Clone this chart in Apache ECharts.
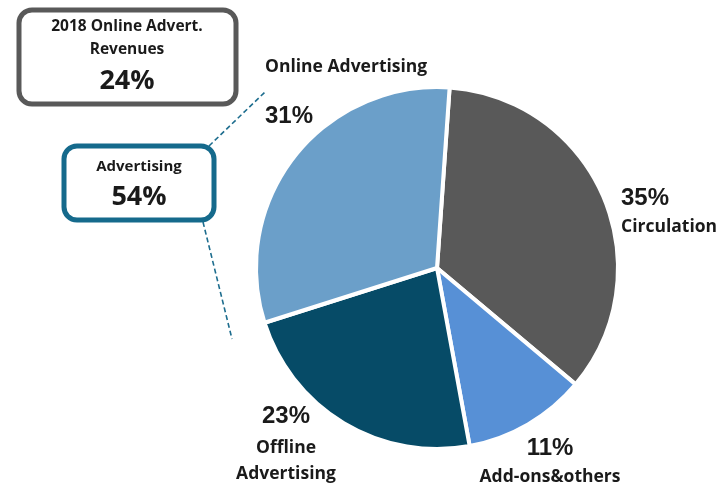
<!DOCTYPE html>
<html>
<head>
<meta charset="utf-8">
<script src="https://cdn.jsdelivr.net/npm/echarts@6/dist/echarts.min.js"></script>
<style>
  html, body { margin: 0; padding: 0; background: #ffffff; }
  #chart { width: 722px; height: 485px; }
</style>
</head>
<body>
<div id="chart"></div>
<script>
// Revenue split, clockwise from the top
const categories = ['Circulation', 'Add-ons&others', 'Offline Advertising', 'Online Advertising'];
const shares = [35, 11, 23, 31];
const sliceColors = ['#595959', '#5790d6', '#064b67', '#6b9fc9'];
// Callout figures
const onlineAdvertRevenue2018 = [24];
const advertisingCategories = ['Offline Advertising', 'Online Advertising'];

const advertisingShare = advertisingCategories
  .map(c => shares[categories.indexOf(c)])
  .reduce((a, b) => a + b, 0);

const nameFont = '"Open Sans", Lato, sans-serif';
const pctFont = '"Liberation Sans", Arial, sans-serif';

// Per-slice label placement: name text lines, order, anchor
const labelSpec = {
  'Online Advertising': { lines: ['Online Advertising'], nameFirst: true, x: 265, y: 47, align: 'left', lhN: 40, lhP: 58 },
  'Circulation': { lines: ['Circulation'], nameFirst: false, x: 621, y: 183, align: 'left', lhN: 28, lhP: 30 },
  'Offline Advertising': { lines: ['Offline', 'Advertising'], nameFirst: false, x: 286, y: 397, align: 'center', lhN: 26, lhP: 38 },
  'Add-ons&others': { lines: ['Add-ons&others'], nameFirst: false, x: 550, y: 433, align: 'center', lhN: 28, lhP: 30 }
};

const chart = echarts.init(document.getElementById('chart'), null, { renderer: 'canvas' });

const data = categories.map((c, i) => {
  const s = labelSpec[c];
  return {
    name: c,
    value: shares[i],
    itemStyle: { color: sliceColors[i] },
    label: {
      align: s.align,
      rich: {
        p: { fontFamily: pctFont, fontWeight: 'bold', fontSize: 24, color: '#1a1a1a', lineHeight: s.lhP, align: s.align },
        n: { fontFamily: nameFont, fontWeight: 'bold', fontSize: 17.5, color: '#1a1a1a', lineHeight: s.lhN, align: s.align }
      }
    }
  };
});

chart.setOption({
  animation: false,
  backgroundColor: '#ffffff',
  series: [{
    type: 'pie',
    center: [437, 268],
    radius: [0, 181],
    startAngle: 86,
    clockwise: true,
    data: data,
    itemStyle: { borderColor: '#ffffff', borderWidth: 4 },
    emphasis: { disabled: true },
    labelLine: { show: false },
    label: {
      show: true,
      position: 'outside',
      overflow: 'none',
      formatter: p => {
        const s = labelSpec[p.name];
        const pct = '{p|' + p.value + '%}';
        const names = s.lines.map(l => '{n|' + l + '}').join('\n');
        return s.nameFirst ? names + '\n' + pct : pct + '\n' + names;
      }
    },
    labelLayout: params => {
      const name = categories[params.dataIndex];
      const s = labelSpec[name];
      return { x: s.x, y: s.y, align: s.align, verticalAlign: 'top', hideOverlap: false, moveOverlap: null };
    }
  }],
  graphic: [
    // dashed connectors from the advertising callout
    { type: 'line', z: 1, shape: { x1: 209, y1: 146, x2: 265, y2: 92 },
      style: { stroke: '#1d6d8e', lineWidth: 1.6, lineDash: [5, 3] } },
    { type: 'line', z: 1, shape: { x1: 203, y1: 222, x2: 232, y2: 339 },
      style: { stroke: '#1d6d8e', lineWidth: 1.6, lineDash: [5, 3] } },
    // 2018 online advertising callout
    { type: 'rect', z: 5, shape: { x: 19, y: 10, width: 217, height: 94, r: 13 },
      style: { fill: '#ffffff', stroke: '#595959', lineWidth: 5 } },
    { type: 'text', z: 6, x: 127, y: 27,
      style: { text: '2018 Online Advert.', font: 'bold 15.5px ' + nameFont, fill: '#1a1a1a', align: 'center', verticalAlign: 'middle' } },
    { type: 'text', z: 6, x: 127, y: 50,
      style: { text: 'Revenues', font: 'bold 15.5px ' + nameFont, fill: '#1a1a1a', align: 'center', verticalAlign: 'middle' } },
    { type: 'text', z: 6, x: 127, y: 81,
      style: { text: onlineAdvertRevenue2018[0] + '%', font: 'bold 27px ' + nameFont, fill: '#1a1a1a', align: 'center', verticalAlign: 'middle' } },
    // total advertising callout
    { type: 'rect', z: 5, shape: { x: 64, y: 146, width: 150, height: 74, r: 13 },
      style: { fill: '#ffffff', stroke: '#156a8c', lineWidth: 5 } },
    { type: 'text', z: 6, x: 139, y: 167,
      style: { text: 'Advertising', font: 'bold 15px ' + nameFont, fill: '#1a1a1a', align: 'center', verticalAlign: 'middle' } },
    { type: 'text', z: 6, x: 139, y: 197,
      style: { text: advertisingShare + '%', font: 'bold 27px ' + nameFont, fill: '#1a1a1a', align: 'center', verticalAlign: 'middle' } }
  ]
});
</script>
</body>
</html>
